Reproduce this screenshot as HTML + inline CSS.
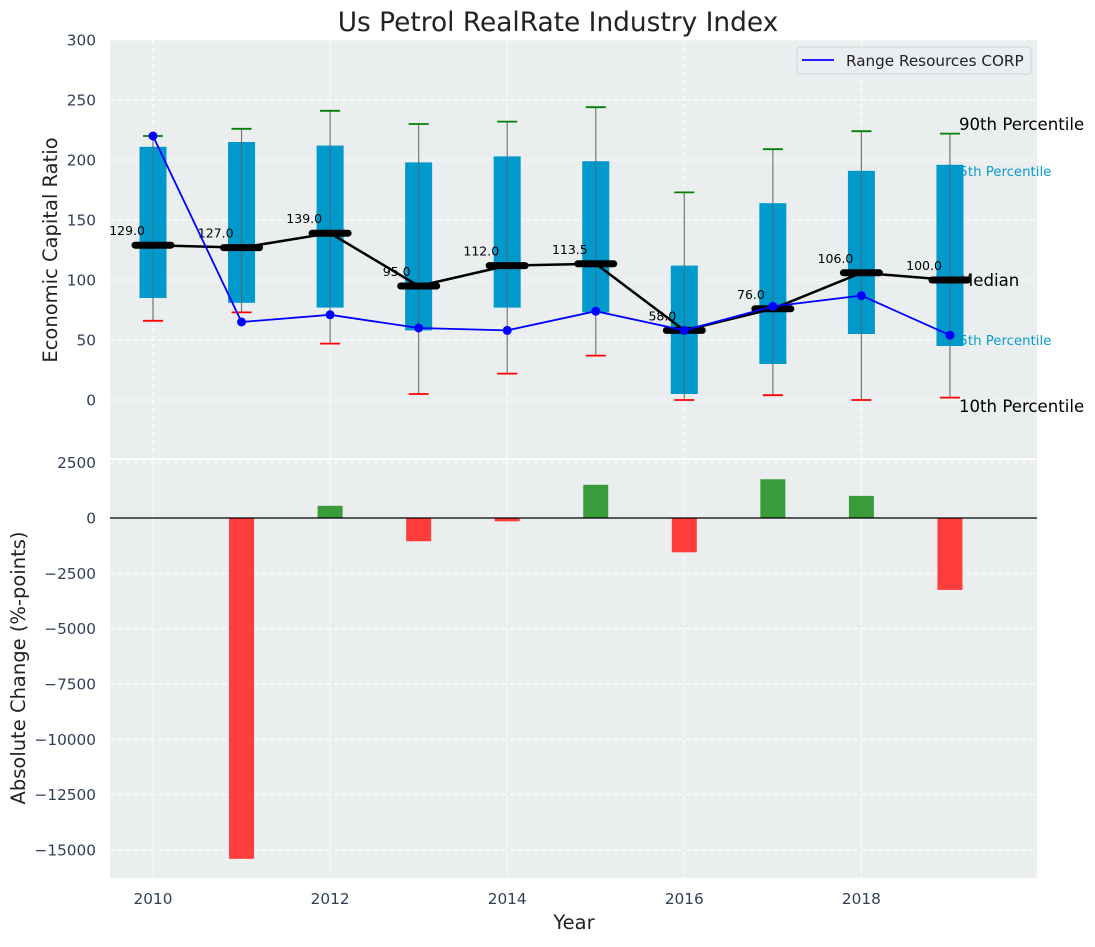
<!DOCTYPE html>
<html><head><meta charset="utf-8">
<style>
html,body{margin:0;padding:0;background:#fff;}
svg text{font-family:"DejaVu Sans","Liberation Sans",sans-serif;}
</style></head>
<body>
<svg id="chart" width="1095" height="942" viewBox="0 0 1095 942" xmlns="http://www.w3.org/2000/svg"></svg>
<script>
const years = [2010,2011,2012,2013,2014,2015,2016,2017,2018,2019];
const boxTop = [211,215,212,198,203,199,112,164,191,196];
const boxBottom = [85,81,77,58,77,73,5,30,55,45];
const whiskerTop = [220,226,241,230,232,244,173,209,224,222];
const whiskerBottom = [66,73,47,5,22,37,0,4,0,2];
const medians = [129,127,139,95,112,113.5,58,76,106,100];
const companyValues = [220,65,71,60,58,74,58,78,87,54];
const changes = [0,-15400,550,-1050,-150,1500,-1550,1750,1000,-3250];
const topTicks = [0,50,100,150,200,250,300];
const bottomTicks = [2500,0,-2500,-5000,-7500,-10000,-12500,-15000];
const xTicks = [2010,2012,2014,2016,2018];

const NS="http://www.w3.org/2000/svg";
const svg=document.getElementById('chart');
function el(tag,attrs,parent){const e=document.createElementNS(NS,tag);for(const k in attrs)e.setAttribute(k,attrs[k]);(parent||svg).appendChild(e);return e;}
const X0=110,X1=1037;
const x=v=>153+(v-2010)*88.55;
const yT=v=>400-1.2*v;
const yB=v=>518-v*0.02213;
const TOP0=40,TOP1=458,BOT0=460,BOT1=878;

let r=el('rect',{x:X0,y:TOP0,width:X1-X0,height:TOP1-TOP0,fill:'#eaeeef'});

r=el('rect',{x:X0,y:BOT0,width:X1-X0,height:BOT1-BOT0,fill:'#eaeeef'});


topTicks.forEach(t=>{el('line',{x1:X0,x2:X1,y1:yT(t),y2:yT(t),stroke:'#fff','stroke-dasharray':'5,3','stroke-width':1});
 const tx=el('text',{x:96,y:yT(t)+5.5,'text-anchor':'end','font-size':15.3,fill:'#2e3f55'});tx.textContent=t;
 });
bottomTicks.forEach(t=>{el('line',{x1:X0,x2:X1,y1:yB(t),y2:yB(t),stroke:'#fff','stroke-dasharray':'5,3','stroke-width':1});
 const tx=el('text',{x:96,y:yB(t)+5.5,'text-anchor':'end','font-size':15.3,fill:'#2e3f55'});tx.textContent=String(t).replace('-','\u2212');
 });
xTicks.forEach(t=>{
 el('line',{x1:x(t),x2:x(t),y1:TOP0,y2:TOP1,stroke:'#fff','stroke-dasharray':'5,3'});
 el('line',{x1:x(t),x2:x(t),y1:BOT0,y2:BOT1,stroke:'#fff','stroke-dasharray':'5,3'});
 const tx=el('text',{x:x(t),y:904,'text-anchor':'middle','font-size':15.3,fill:'#2e3f55'});tx.textContent=t;
 });

const n=years.length-1, xl=x(years[n]);
[['90th Percentile',xl+9,130,16.6,'#000'],['95th Percentile',xl+1,176,13.3,'#0a9bcf'],['Median',xl+9,286,16.6,'#000'],['25th Percentile',xl+1,345,13.3,'#0a9bcf'],['10th Percentile',xl+9,412,16.6,'#000']].forEach(a=>{
 const t=el('text',{x:a[1],y:a[2],'font-size':a[3],fill:a[4]});t.textContent=a[0];
 });

years.forEach((yr,i)=>{
 const cx=x(yr);
 el('line',{x1:cx,x2:cx,y1:yT(whiskerTop[i]),y2:yT(whiskerBottom[i]),stroke:'#777','stroke-width':1.2});
 const b=el('rect',{x:cx-13.5,y:yT(boxTop[i]),width:27,height:yT(boxBottom[i])-yT(boxTop[i]),fill:'#0099cc'});
 
 el('line',{x1:cx,x2:cx,y1:yT(boxTop[i]),y2:yT(boxBottom[i]),stroke:'#4a6a78','stroke-width':1});
 const g=el('line',{x1:cx-10,x2:cx+10,y1:yT(whiskerTop[i]),y2:yT(whiskerTop[i]),stroke:'#008000','stroke-width':1.8});
 
 const rd=el('line',{x1:cx-10,x2:cx+10,y1:yT(whiskerBottom[i]),y2:yT(whiskerBottom[i]),stroke:'#ff0000','stroke-width':1.8});
 
});

let mp=years.map((yr,i)=>x(yr)+','+yT(medians[i])).join(' ');
let ml=el('polyline',{points:mp,fill:'none',stroke:'#000','stroke-width':2.5});

years.forEach((yr,i)=>{
 const m=el('line',{x1:x(yr)-18,x2:x(yr)+18,y1:yT(medians[i]),y2:yT(medians[i]),stroke:'#000','stroke-width':7,'stroke-linecap':'round'});
 
 const t=el('text',{x:x(yr)-8,y:yT(medians[i])-10,'text-anchor':'end','font-size':12.5,fill:'#000'});t.textContent=medians[i].toFixed(1);
 
});

let cp=years.map((yr,i)=>x(yr)+','+yT(companyValues[i])).join(' ');
let cl=el('polyline',{points:cp,fill:'none',stroke:'#0000ff','stroke-width':1.8});

years.forEach((yr,i)=>{const c=el('circle',{cx:x(yr),cy:yT(companyValues[i]),r:4.5,fill:'#0000ff'});
 });

const lg=el('g',{});
el('rect',{x:797,y:47,width:234,height:27,rx:3,fill:'#eaeef2',stroke:'#d0d4d8'},lg);
el('line',{x1:802,x2:834,y1:60,y2:60,stroke:'#0000ff','stroke-width':1.8},lg);
const lt=el('text',{x:846,y:66,'font-size':15.2,fill:'#222'},lg);lt.textContent='Range Resources CORP';

years.forEach((yr,i)=>{const v=changes[i];if(v===0)return;
 const y1=Math.min(yB(0),yB(v)),h=Math.abs(yB(v)-yB(0));
 const b=el('rect',{x:x(yr)-12.5,y:y1,width:25,height:h,fill:v>0?'#3a9b3a':'#ff3d3d'});
 });
el('line',{x1:X0,x2:X1,y1:yB(0),y2:yB(0),stroke:'#000','stroke-width':1.2});

let t=el('text',{x:558,y:31,'text-anchor':'middle','font-size':26.4,fill:'#222'});t.textContent='Us Petrol RealRate Industry Index';

t=el('text',{x:0,y:0,'text-anchor':'middle','font-size':19.5,fill:'#222',transform:'translate(57,250) rotate(-90)'});t.textContent='Economic Capital Ratio';

t=el('text',{x:0,y:0,'text-anchor':'middle','font-size':19.5,fill:'#222',transform:'translate(25,668) rotate(-90)'});t.textContent='Absolute Change (%-points)';

t=el('text',{x:574,y:929,'text-anchor':'middle','font-size':19.5,fill:'#222'});t.textContent='Year';

</script>
</body></html>
